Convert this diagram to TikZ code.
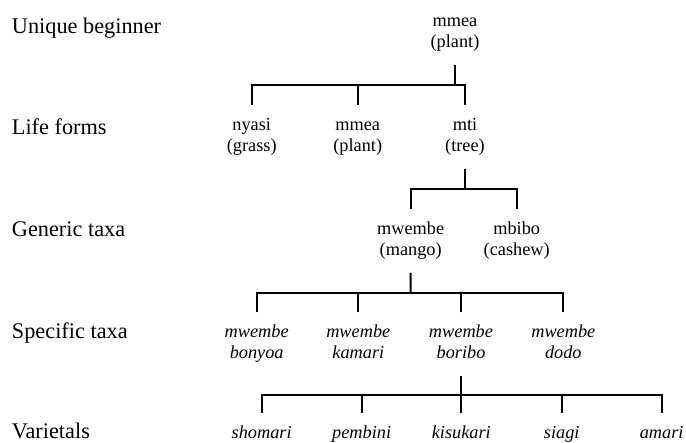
\documentclass[tikz,border=0pt]{standalone}
\usepackage{fontspec}
\setmainfont{Liberation Serif}
\usetikzlibrary{calc}
\begin{document}
\begin{tikzpicture}[x=1pt,y=1pt,
  tx/.style={font=\fontsize{18.3}{21}\selectfont, align=center, inner sep=11pt, anchor=base},
  itx/.style={tx, font=\fontsize{18.3}{21}\selectfont\itshape},
  lvl/.style={font=\fontsize{22.3}{26}\selectfont, anchor=base west, inner sep=0pt},
  conn/.style={line width=2pt}]
\useasboundingbox (0,0) rectangle (686,-443);

% level labels
\node[lvl] (l1) at (11.7,-33.3) {Unique beginner};
\node[lvl] (l2) at (11.7,-135) {Life forms};
\node[lvl] (l3) at (11.7,-237) {Generic taxa};
\node[lvl] (l4) at (11.7,-339) {Specific taxa};
\node[lvl] (l5) at (11.7,-439) {Varietals};

% tree nodes (anchor base = baseline of the last line)
\node[tx] (root) at (455,-47.5) {\strut mmea\\\strut (plant)};

\node[tx] (nyasi) at (251.7,-152) {\strut nyasi\\\strut (grass)};
\node[tx] (mmea) at (357.7,-152) {\strut mmea\\\strut (plant)};
\node[tx] (mti) at (465,-152) {\strut mti\\\strut (tree)};

\node[tx] (mwembe) at (410.7,-255.5) {\strut mwembe\\\strut (mango)};
\node[tx] (mbibo) at (516.7,-255.5) {\strut mbibo\\\strut (cashew)};

\node[itx] (bonyoa) at (256.7,-359) {\strut mwembe\\\strut bonyoa};
\node[itx] (kamari) at (358.3,-359) {\strut mwembe\\\strut kamari};
\node[itx] (boribo) at (461,-359) {\strut mwembe\\\strut boribo};
\node[itx] (dodo) at (563.3,-359) {\strut mwembe\\\strut dodo};

\node[itx] (shomari) at (261.7,-438.5) {\strut shomari};
\node[itx] (pembini) at (361.7,-438.5) {\strut pembini};
\node[itx] (kisukari) at (461.3,-438.5) {\strut kisukari};
\node[itx] (siagi) at (561.7,-438.5) {\strut siagi};
\node[itx] (amari) at (661.7,-438.5) {\strut amari};

% connectors
\coordinate (m1) at ($(root.south)!.5!(root.south|-nyasi.north)$);
\draw[conn] (root.south) -- (m1);
\draw[conn] (nyasi.north) |- (m1) -| (mti.north);
\draw[conn] (mmea.north) -- (mmea.north|-m1);

\coordinate (m2) at ($(mti.south)!.5!(mti.south|-mwembe.north)$);
\draw[conn] (mti.south) -- (m2);
\draw[conn] (mwembe.north) |- (m2) -| (mbibo.north);

\coordinate (m3) at ($(mwembe.south)!.5!(mwembe.south|-bonyoa.north)$);
\draw[conn] (mwembe.south) -- (m3);
\draw[conn] (bonyoa.north) |- (m3) -| (dodo.north);
\draw[conn] (kamari.north) -- (kamari.north|-m3);
\draw[conn] (boribo.north) -- (boribo.north|-m3);

\coordinate (m4) at ($(boribo.south)!.5!(boribo.south|-shomari.north)$);
\draw[conn] (boribo.south) -- (m4);
\draw[conn] (shomari.north) |- (m4) -| (amari.north);
\draw[conn] (pembini.north) -- (pembini.north|-m4);
\draw[conn] (kisukari.north) -- (kisukari.north|-m4);
\draw[conn] (siagi.north) -- (siagi.north|-m4);
\end{tikzpicture}
\end{document}
